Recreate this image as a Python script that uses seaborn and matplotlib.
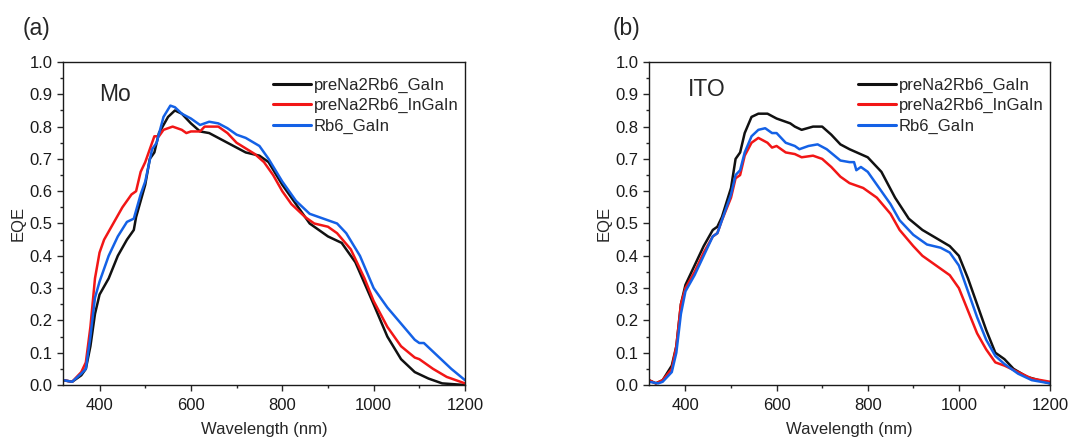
import numpy as np
import pandas as pd
import matplotlib
matplotlib.use("Agg")
import matplotlib.pyplot as plt
import seaborn as sns
from matplotlib.ticker import MultipleLocator, FormatStrFormatter

# ---------------- data ----------------
series_names = ["preNa2Rb6_GaIn", "preNa2Rb6_InGaIn", "Rb6_GaIn"]
series_colors = ["#111111", "#f21616", "#1461e6"]

# Panel (a): Mo
mo_black_x = [320, 340, 360, 370, 380, 390, 400, 420, 440, 460, 475, 480, 500, 510, 520, 530, 550, 565, 580, 600,
              620, 640, 660, 700, 720, 750, 770, 800, 830, 860, 900, 930, 960, 1000, 1030, 1060, 1090, 1120, 1150, 1200]
mo_black_y = [0.015, 0.01, 0.03, 0.05, 0.12, 0.22, 0.28, 0.33, 0.40, 0.45, 0.48, 0.52, 0.62, 0.70, 0.72, 0.78, 0.83, 0.85, 0.84, 0.81,
              0.785, 0.78, 0.765, 0.735, 0.72, 0.71, 0.69, 0.62, 0.56, 0.50, 0.46, 0.44, 0.38, 0.25, 0.15, 0.08, 0.04, 0.02, 0.005, 0.0]

mo_red_x = [320, 340, 360, 370, 380, 390, 400, 410, 430, 450, 470, 480, 490, 500, 510, 520, 530, 540, 560, 580, 590, 600,
            620, 630, 660, 680, 700, 740, 760, 780, 800, 820, 850, 870, 900, 920, 950, 980, 1000, 1030, 1060, 1090, 1100,
            1130, 1160, 1200]
mo_red_y = [0.015, 0.01, 0.04, 0.07, 0.18, 0.33, 0.41, 0.45, 0.50, 0.55, 0.59, 0.60, 0.66, 0.69, 0.73, 0.77, 0.77, 0.79, 0.80, 0.79, 0.78, 0.785,
            0.785, 0.80, 0.80, 0.78, 0.75, 0.715, 0.69, 0.65, 0.60, 0.56, 0.52, 0.50, 0.49, 0.47, 0.42, 0.33, 0.26, 0.18, 0.12, 0.085, 0.08,
            0.05, 0.025, 0.005]

mo_blue_x = [320, 340, 360, 370, 380, 390, 400, 420, 440, 460, 475, 490, 500, 515, 525, 540, 555, 565, 580, 600, 620, 640,
             660, 680, 700, 720, 750, 770, 800, 830, 860, 890, 920, 940, 970, 1000, 1030, 1060, 1090, 1100, 1110, 1140, 1170, 1200]
mo_blue_y = [0.015, 0.01, 0.035, 0.05, 0.15, 0.27, 0.32, 0.40, 0.46, 0.505, 0.515, 0.59, 0.63, 0.73, 0.75, 0.83, 0.865, 0.86, 0.84, 0.825, 0.805, 0.815,
             0.81, 0.795, 0.775, 0.765, 0.74, 0.70, 0.63, 0.57, 0.53, 0.515, 0.50, 0.47, 0.40, 0.30, 0.24, 0.19, 0.14, 0.13, 0.13, 0.09, 0.05, 0.015]

# Panel (b): ITO
ito_black_x = [320, 335, 350, 370, 380, 390, 400, 420, 440, 460, 470, 480, 500, 510, 520, 530, 545, 560, 580, 600, 620, 630,
               640, 655, 680, 700, 720, 740, 760, 800, 830, 860, 890, 920, 950, 980, 1000, 1020, 1040, 1060, 1080, 1100, 1120,
               1150, 1200]
ito_black_y = [0.015, 0.005, 0.015, 0.06, 0.12, 0.25, 0.31, 0.37, 0.43, 0.48, 0.49, 0.52, 0.61, 0.70, 0.72, 0.78, 0.83, 0.84, 0.84, 0.825, 0.815, 0.81,
               0.80, 0.79, 0.80, 0.80, 0.775, 0.745, 0.73, 0.705, 0.66, 0.58, 0.515, 0.48, 0.455, 0.43, 0.40, 0.33, 0.25, 0.17, 0.10, 0.08, 0.05,
               0.025, 0.005]

ito_red_x = [320, 335, 350, 370, 380, 390, 400, 420, 440, 460, 470, 480, 500, 510, 520, 530, 545, 560, 580, 590, 600, 620,
             640, 655, 680, 700, 720, 740, 760, 790, 820, 850, 870, 900, 920, 950, 980, 1000, 1020, 1040, 1060, 1080, 1100,
             1130, 1160, 1200]
ito_red_y = [0.015, 0.005, 0.015, 0.05, 0.12, 0.25, 0.30, 0.35, 0.41, 0.46, 0.47, 0.51, 0.58, 0.64, 0.65, 0.71, 0.75, 0.765, 0.75, 0.735, 0.74, 0.72,
             0.715, 0.705, 0.71, 0.70, 0.675, 0.645, 0.625, 0.61, 0.58, 0.53, 0.48, 0.43, 0.40, 0.37, 0.34, 0.30, 0.23, 0.16, 0.11, 0.07, 0.06,
             0.04, 0.02, 0.01]

ito_blue_x = [320, 340, 350, 370, 380, 390, 400, 420, 440, 460, 470, 480, 500, 510, 520, 530, 545, 560, 575, 590, 600, 620,
              640, 650, 670, 690, 710, 740, 760, 770, 775, 785, 800, 820, 850, 870, 900, 930, 960, 980, 1000, 1020, 1040,
              1060, 1080, 1100, 1130, 1160, 1200]
ito_blue_y = [0.01, 0.005, 0.01, 0.04, 0.10, 0.22, 0.29, 0.34, 0.40, 0.46, 0.47, 0.51, 0.59, 0.65, 0.665, 0.72, 0.77, 0.79, 0.795, 0.78, 0.78, 0.75,
              0.74, 0.73, 0.74, 0.745, 0.73, 0.695, 0.69, 0.69, 0.665, 0.675, 0.66, 0.62, 0.56, 0.51, 0.465, 0.435, 0.425, 0.41, 0.37, 0.29, 0.21,
              0.14, 0.09, 0.065, 0.035, 0.015, 0.005]

panel_labels = ["(a)", "(b)"]
panel_titles = ["Mo", "ITO"]
x_label = "Wavelength (nm)"
y_label = "EQE"


def make_df(xs, ys):
    frames = []
    for name, x, y in zip(series_names, xs, ys):
        frames.append(pd.DataFrame({"Wavelength": x, "EQE": y, "Sample": name}))
    return pd.concat(frames, ignore_index=True)


df_mo = make_df([mo_black_x, mo_red_x, mo_blue_x], [mo_black_y, mo_red_y, mo_blue_y])
df_ito = make_df([ito_black_x, ito_red_x, ito_blue_x], [ito_black_y, ito_red_y, ito_blue_y])

# ---------------- plot ----------------
sns.set_style("ticks")
plt.rcParams["font.family"] = ["Liberation Sans", "DejaVu Sans"]
plt.rcParams["axes.linewidth"] = 1.0
plt.rcParams["xtick.direction"] = "out"
plt.rcParams["ytick.direction"] = "out"

W, H = 1070, 441
fig = plt.figure(figsize=(W / 100, H / 100), dpi=100)


def ax_rect(l, r, t, b):
    return [l / W, 1 - b / H, (r - l) / W, (b - t) / H]


ax_a = fig.add_axes(ax_rect(63, 465, 62, 385))
ax_b = fig.add_axes(ax_rect(649, 1050, 62, 385))

palette = dict(zip(series_names, series_colors))

for ax, df, ttl, text_x, text_y in [(ax_a, df_mo, panel_titles[0], 398, 0.898),
                                    (ax_b, df_ito, panel_titles[1], 406, 0.915)]:
    sns.lineplot(data=df, x="Wavelength", y="EQE", hue="Sample", palette=palette,
                 hue_order=series_names, estimator=None, sort=False, linewidth=1.8, ax=ax)
    ax.set_xlim(320, 1200)
    ax.set_ylim(0, 1.0)
    ax.xaxis.set_major_locator(MultipleLocator(200))
    ax.xaxis.set_minor_locator(MultipleLocator(100))
    ax.yaxis.set_major_locator(MultipleLocator(0.1))
    ax.yaxis.set_minor_locator(MultipleLocator(0.05))
    ax.yaxis.set_major_formatter(FormatStrFormatter("%.1f"))
    ax.tick_params(which="major", length=4.5, width=1, labelsize=12, labelcolor="#1a1a1a")
    ax.tick_params(which="minor", length=2.5, width=1)
    ax.tick_params(axis="x", which="major", pad=5)
    ax.tick_params(axis="y", which="major", pad=3)
    ax.tick_params(top=False, right=False, which="both")
    for sp in ax.spines.values():
        sp.set_visible(True)
        sp.set_color("#1a1a1a")
    ax.set_xlabel(x_label, fontsize=12, labelpad=6)
    ax.set_ylabel(y_label, fontsize=12, labelpad=3)
    ax.text(text_x, text_y, ttl, fontsize=16.5, va="center", ha="left")
    leg = ax.legend(loc="upper right", bbox_to_anchor=(1.0, 0.973), frameon=False, fontsize=12,
                    handlelength=2.3, handletextpad=0.15, labelspacing=0.33, borderaxespad=0.0)
    for h in leg.get_lines():
        h.set_linewidth(2.2)

fig.text(23 / W, 1 - 28 / H, panel_labels[0], fontsize=16.5, va="center", ha="left")
fig.text(613 / W, 1 - 28 / H, panel_labels[1], fontsize=16.5, va="center", ha="left")

fig.savefig("out.png", dpi=100)
